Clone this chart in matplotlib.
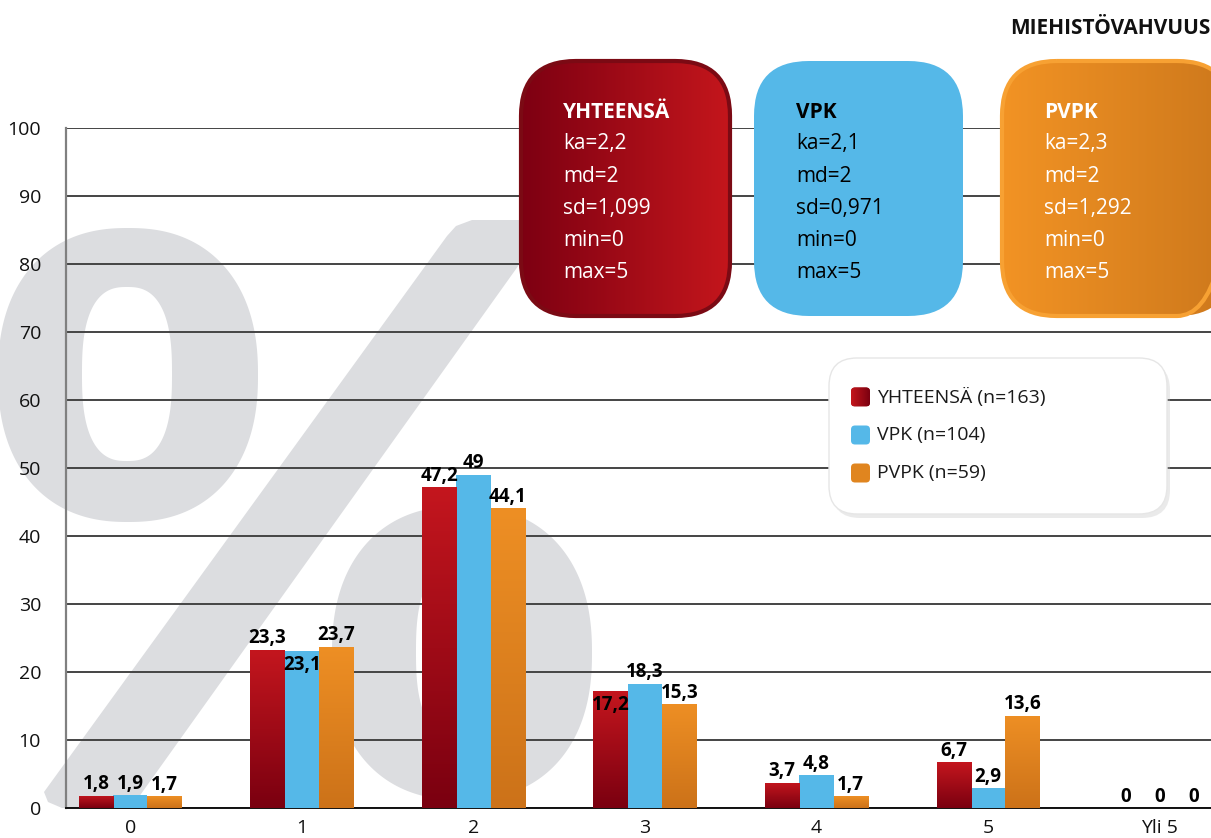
import numpy as np
import matplotlib
matplotlib.use('Agg')
import matplotlib.pyplot as plt
from matplotlib.patches import FancyBboxPatch, Polygon
from matplotlib.colors import LinearSegmentedColormap

# data
categories = ['0', '1', '2', '3', '4', '5', 'Yli 5']
yhteensa = [1.8, 23.3, 47.2, 17.2, 3.7, 6.7, 0]
vpk = [1.9, 23.1, 49, 18.3, 4.8, 2.9, 0]
pvpk = [1.7, 23.7, 44.1, 15.3, 1.7, 13.6, 0]
legend_names = ['YHTEENSÄ (n=163)', 'VPK (n=104)', 'PVPK (n=59)']
box_titles = ['YHTEENSÄ', 'VPK', 'PVPK']
box_yht = ['ka=2,2', 'md=2', 'sd=1,099', 'min=0', 'max=5']
box_vpk = ['ka=2,1', 'md=2', 'sd=0,971', 'min=0', 'max=5']
box_pvpk = ['ka=2,3', 'md=2', 'sd=1,292', 'min=0', 'max=5']
chart_title = 'MIEHISTÖVAHVUUS'

plt.rcParams['font.family'] = ['Open Sans', 'DejaVu Sans']

W, H = 1211, 838
fig = plt.figure(figsize=(W / 100, H / 100), dpi=100)

red_cm = LinearSegmentedColormap.from_list('r', ['#7a0010', '#c4161e'])
org_cm = LinearSegmentedColormap.from_list('o', ['#cc7219', '#ee8f24'])
red_h = LinearSegmentedColormap.from_list('rh', ['#7d0012', '#c4161c'])
org_h = LinearSegmentedColormap.from_list('oh', ['#f29324', '#cd781c'])
grey = '#dcdde0'

# background "%" sign
bg = fig.add_axes([0, 0, 1, 1], zorder=0)
bg.set_xlim(0, W)
bg.set_ylim(H, 0)
bg.axis('off')


def superellipse(cx, cy, a, b, n, num=300):
    t = np.linspace(0, 2 * np.pi, num)
    c, s = np.cos(t), np.sin(t)
    x = cx + a * np.sign(c) * np.abs(c) ** (2 / n)
    y = cy + b * np.sign(s) * np.abs(s) ** (2 / n)
    return np.column_stack([x, y])


bg.add_patch(Polygon([(131, 808), (62, 808), (48, 802), (44, 792), (447, 236),
                      (456, 226), (472, 220), (551, 220)], closed=True, color=grey, lw=0))
for cx, cy in [(128, 375), (462, 653)]:
    bg.add_patch(Polygon(superellipse(cx, cy, 130, 147, 2.3), color=grey, lw=0))
    bg.add_patch(Polygon(superellipse(cx - 1, cy - 1, 45, 87, 2.6), color='white', lw=0))

# main chart
ax = fig.add_axes([66 / W, 30 / H, 1145 / W, 680 / H], zorder=1)
ax.set_facecolor('none')
x = np.arange(len(categories))
bw = 0.2
series = [yhteensa, vpk, pvpk]
cmaps = [red_cm, None, org_cm]
grad = np.linspace(0, 1, 256).reshape(-1, 1)
for i, (vals, cm) in enumerate(zip(series, cmaps)):
    xs = x + (i - 1) * bw
    bars = ax.bar(xs, vals, bw, color='#55b8e8' if cm is None else cm(0.5), zorder=3, lw=0)
    for b, v in zip(bars, vals):
        if cm is not None and v > 0:
            im = ax.imshow(grad, cmap=cm, origin='lower', aspect='auto', zorder=3.5,
                           extent=(b.get_x(), b.get_x() + bw, 0, v))
            im.set_clip_path(b)

# value labels ((category, series) pairs written inside the bar top)
inside = {(1, 1), (3, 0)}
for i, vals in enumerate(series):
    for j, v in enumerate(vals):
        txt = f'{v:g}'.replace('.', ',')
        if (j, i) in inside:
            ax.annotate(txt, (x[j] + (i - 1) * bw, v), xytext=(0, -3), textcoords='offset points',
                        ha='center', va='top', fontsize=13.5, fontweight='bold', zorder=5)
        else:
            ax.annotate(txt, (x[j] + (i - 1) * bw, v), xytext=(0, 1), textcoords='offset points',
                        ha='center', va='bottom', fontsize=13.5, fontweight='bold', zorder=5)

ax.set_xlim(-0.375, 6.3)
ax.set_ylim(0, 100)
ax.set_yticks(range(0, 101, 10))
ax.set_xticks(x)
ax.set_xticklabels(categories)
ax.tick_params(length=0, labelsize=14, labelcolor='#111111')
ax.tick_params(axis='y', pad=18)
ax.tick_params(axis='x', pad=8)
ax.grid(axis='y', color='#444444', lw=1.4)
ax.set_axisbelow(True)
for s in ['top', 'right']:
    ax.spines[s].set_visible(False)
ax.spines['left'].set_color('#808080')
ax.spines['left'].set_linewidth(1.6)
ax.spines['bottom'].set_color('#111111')
ax.spines['bottom'].set_linewidth(1.4)

# overlay: stat boxes, legend, title
ov = fig.add_axes([0, 0, 1, 1], zorder=2)
ov.set_xlim(0, W)
ov.set_ylim(H, 0)
ov.axis('off')

hgrad = np.linspace(0, 1, 256).reshape(1, -1)
boxes = [(521, 209, red_h, None, '#7b0a14', 'white', box_yht),
         (754, 209, None, '#55b8e8', 'none', 'black', box_vpk),
         (1002, 230, org_h, None, '#f7a133', 'white', box_pvpk)]
for k, (bx, bwid, cm, fc, ec, tc, stats) in enumerate(boxes):
    p = FancyBboxPatch((bx, 61), bwid, 255, boxstyle='round,pad=0,rounding_size=55',
                       fc=fc if fc else 'none', ec='none', lw=0, zorder=2)
    ov.add_patch(p)
    if cm is not None:
        im = ov.imshow(hgrad, cmap=cm, aspect='auto', zorder=2.5,
                       extent=(bx, bx + bwid, 316, 61))
        im.set_clip_path(p)
    if ec != 'none':
        ov.add_patch(FancyBboxPatch((bx, 61), bwid, 255, boxstyle='round,pad=0,rounding_size=55',
                                    fc='none', ec=ec, lw=3, zorder=3))
    ov.text(bx + 42, 112, box_titles[k], color=tc, fontsize=15, fontweight='bold',
            va='center', zorder=4)
    for m, s in enumerate(stats):
        ov.text(bx + 42, 144 + 32 * m, s, color=tc, fontsize=15, va='center', zorder=4)
ov.set_xlim(0, W)
ov.set_ylim(H, 0)

# legend box
ov.add_patch(FancyBboxPatch((832, 362), 338, 156, boxstyle='round,pad=0,rounding_size=28',
                            fc='#bbbbbb', ec='none', alpha=0.3, zorder=2))
ov.add_patch(FancyBboxPatch((829, 358), 338, 156, boxstyle='round,pad=0,rounding_size=28',
                            fc='white', ec='#e6e6e6', lw=1, zorder=2.2))
leg_cm = [LinearSegmentedColormap.from_list('lr', ['#c4161c', '#7a0010']), None, None]
leg_fc = ['#a01018', '#55b8e8', '#e0851f']
for k, name in enumerate(legend_names):
    yc = 397 + 38 * k
    mk = FancyBboxPatch((851, yc - 9.5), 19, 19, boxstyle='round,pad=0,rounding_size=4',
                        fc=leg_fc[k], ec='none', zorder=3)
    ov.add_patch(mk)
    if leg_cm[k] is not None:
        im = ov.imshow(hgrad, cmap=leg_cm[k], aspect='auto', zorder=3.2,
                       extent=(851, 870, yc + 9.5, yc - 9.5))
        im.set_clip_path(mk)
    ov.text(877, yc, name, fontsize=14, va='center', color='#1a1a1a', zorder=4)
ov.set_xlim(0, W)
ov.set_ylim(H, 0)

ov.text(1211, 28, chart_title, ha='right', va='center', fontsize=15, fontweight='bold',
        color='#111111', zorder=4)

fig.savefig('out.png', dpi=100)
